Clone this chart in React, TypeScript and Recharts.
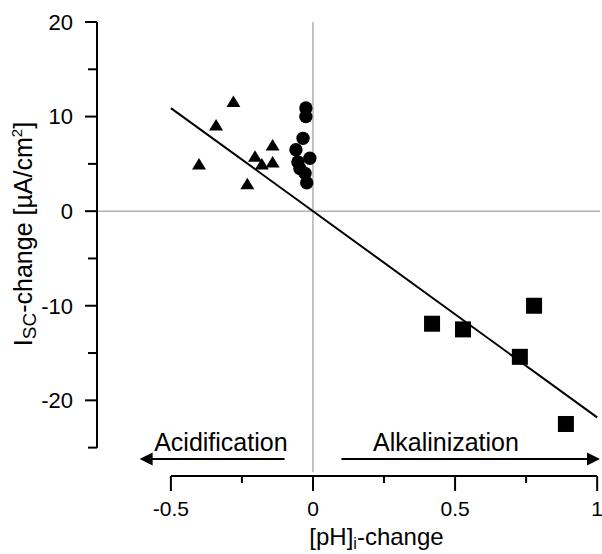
import React from "react";
import {
  ScatterChart,
  Scatter,
  XAxis,
  YAxis,
  ReferenceLine,
  ReferenceDot,
} from "recharts";

// acidification (triangles)
const acidX = [-0.401, -0.341, -0.28, -0.231, -0.204, -0.18, -0.142, -0.142];
const acidY = [5.0, 9.1, 11.6, 2.9, 5.8, 5.0, 7.0, 5.2];
// near zero (circles)
const neutX = [-0.025, -0.025, -0.035, -0.06, -0.011, -0.053, -0.046, -0.028, -0.022];
const neutY = [10.9, 10.0, 7.7, 6.5, 5.6, 5.2, 4.5, 4.0, 3.0];
// alkalinization (squares)
const alkX = [0.419, 0.528, 0.728, 0.778, 0.89];
const alkY = [-11.9, -12.5, -15.4, -10.0, -22.5];

// regression line end points
const fitX = [-0.5, 1.0];
const fitY = [10.9, -21.8];

const xTicks = [-0.5, -0.25, 0, 0.25, 0.5, 0.75, 1];
const xLabels = ["-0.5", "", "0", "", "0.5", "", "1"];
const yTicks = [-25, -20, -15, -10, -5, 0, 5, 10, 15, 20];

const toPts = (xs: number[], ys: number[]) => xs.map((x, i) => ({ x, y: ys[i] }));

const acidData = toPts(acidX, acidY);
const neutData = toPts(neutX, neutY);
const alkData = toPts(alkX, alkY);

const FONT = "'Liberation Sans', Arial, Helvetica, sans-serif";

const Triangle = (props: any) => {
  const { cx, cy } = props;
  return (
    <polygon
      points={`${cx},${cy - 6} ${cx - 7},${cy + 5.5} ${cx + 7},${cy + 5.5}`}
      fill="#000"
    />
  );
};
const Dot = (props: any) => <circle cx={props.cx} cy={props.cy} r={6.7} fill="#000" />;
const Square = (props: any) => (
  <rect x={props.cx - 8} y={props.cy - 8} width={16} height={16} fill="#000" />
);

const XTick = (props: any) => {
  const { x, y, payload } = props;
  const i = xTicks.indexOf(payload.value);
  const major = xLabels[i] !== "";
  return (
    <g>
      <line x1={x} x2={x} y1={y} y2={y + (major ? 15 : 7)} stroke="#000" strokeWidth={2} />
      {major && (
        <text x={x} y={y + 40} textAnchor="middle" fontSize={21} fontFamily={FONT} fill="#000">
          {xLabels[i]}
        </text>
      )}
    </g>
  );
};

const YTick = (props: any) => {
  const { x, y, payload } = props;
  const major = payload.value % 10 === 0;
  return (
    <g>
      <line x1={x - (major ? 12 : 9)} x2={x} y1={y} y2={y} stroke="#000" strokeWidth={2} />
      {major && (
        <text x={x - 24} y={y} dy="0.355em" textAnchor="end" fontSize={22} fontFamily={FONT} fill="#000">
          {payload.value}
        </text>
      )}
    </g>
  );
};

const YTitle = (props: any) => {
  const { viewBox } = props;
  const cx = viewBox.x + 32;
  const cy = viewBox.y + viewBox.height / 2 - 15;
  return (
    <text
      x={cx}
      y={cy}
      transform={`rotate(-90 ${cx} ${cy})`}
      textAnchor="middle"
      fontSize={25}
      fontFamily={FONT}
      fill="#000"
    >
      I
      <tspan fontSize={19} dy={4}>SC</tspan>
      <tspan dy={-4}>-change [µA/cm</tspan>
      <tspan fontSize={15} dy={-10}>2</tspan>
      <tspan dy={10}>]</tspan>
    </text>
  );
};

const XTitle = (props: any) => {
  const { viewBox } = props;
  const cx = viewBox.x + viewBox.width / 2 + 28;
  const cy = viewBox.y + 69;
  return (
    <text x={cx} y={cy} textAnchor="middle" fontSize={24} fontFamily={FONT} fill="#000">
      [pH]
      <tspan fontSize={16} dy={4}>i</tspan>
      <tspan dy={-4}>-change</tspan>
    </text>
  );
};

const Arrow = (props: any) => {
  const { x1, y1, x2, y2 } = props;
  const dir = x2 > x1 ? 1 : -1;
  return (
    <g>
      <line x1={x1} y1={y1} x2={x2 - dir * 10} y2={y2} stroke="#000" strokeWidth={2} />
      <polygon
        points={`${x2},${y2} ${x2 - dir * 13},${y2 - 6.5} ${x2 - dir * 13},${y2 + 6.5}`}
        fill="#000"
      />
    </g>
  );
};

export default function App() {
  return (
    <div style={{ position: "absolute", left: 0, top: 0, background: "#fff" }}>
      <ScatterChart width={602} height={554} margin={{ top: 22, right: 2, bottom: 0, left: 0 }}>
        <XAxis
          type="number"
          dataKey="x"
          domain={[-0.76, 1.01]}
          ticks={xTicks}
          interval={0}
          allowDataOverflow
          axisLine={false}
          tickLine={false}
          tickSize={0}
          tickMargin={0}
          height={78}
          tick={<XTick />}
          label={<XTitle />}
        />
        <YAxis
          type="number"
          dataKey="y"
          domain={[-28, 20]}
          ticks={yTicks}
          interval={0}
          allowDataOverflow
          axisLine={false}
          tickLine={false}
          tickSize={0}
          tickMargin={0}
          width={97}
          tick={<YTick />}
          label={<YTitle />}
        />
        {/* zero lines */}
        <ReferenceLine y={0} stroke="#8a8a8a" strokeWidth={1} />
        <ReferenceLine
          segment={[{ x: 0, y: -27.6 }, { x: 0, y: 20 }]}
          stroke="#8a8a8a"
          strokeWidth={1}
          ifOverflow="visible"
        />
        {/* axis lines */}
        <ReferenceLine
          segment={[{ x: -0.76, y: -25 }, { x: -0.76, y: 20 }]}
          stroke="#000"
          strokeWidth={2}
          ifOverflow="visible"
        />
        <ReferenceLine
          segment={[{ x: -0.5, y: -28 }, { x: 1, y: -28 }]}
          stroke="#000"
          strokeWidth={2}
          ifOverflow="visible"
        />
        {/* regression */}
        <ReferenceLine
          segment={[{ x: fitX[0], y: fitY[0] }, { x: fitX[1], y: fitY[1] }]}
          stroke="#000"
          strokeWidth={2}
          ifOverflow="visible"
        />
        {/* direction arrows */}
        <ReferenceLine
          segment={[{ x: -0.1, y: -26.2 }, { x: -0.61, y: -26.2 }]}
          shape={<Arrow />}
          ifOverflow="visible"
        />
        <ReferenceLine
          segment={[{ x: 0.1, y: -26.2 }, { x: 1.01, y: -26.2 }]}
          shape={<Arrow />}
          ifOverflow="visible"
        />
        <ReferenceDot
          x={-0.324}
          y={-24.4}
          r={0}
          stroke="none"
          ifOverflow="visible"
          label={{ value: "Acidification", position: "center", fontSize: 25, fill: "#000", fontFamily: FONT }}
        />
        <ReferenceDot
          x={0.468}
          y={-24.4}
          r={0}
          stroke="none"
          ifOverflow="visible"
          label={{ value: "Alkalinization", position: "center", fontSize: 25, fill: "#000", fontFamily: FONT }}
        />
        <Scatter data={acidData} shape={<Triangle />} isAnimationActive={false} />
        <Scatter data={neutData} shape={<Dot />} isAnimationActive={false} />
        <Scatter data={alkData} shape={<Square />} isAnimationActive={false} />
      </ScatterChart>
    </div>
  );
}
